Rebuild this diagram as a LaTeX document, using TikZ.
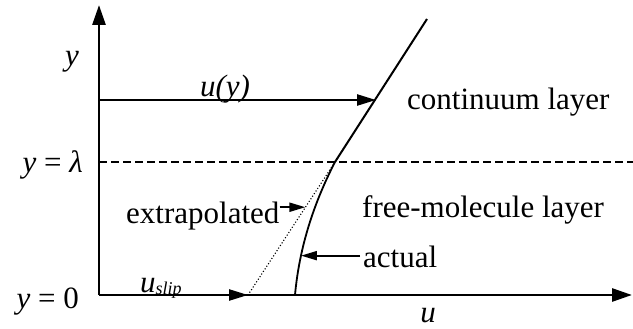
\documentclass[tikz,border=0pt]{standalone}
\usepackage{fontspec}
\setmainfont{Liberation Serif}
\usetikzlibrary{arrows.meta}
\tikzset{
  axis/.style={line width=2.8pt,-{Triangle[length=20pt,width=13pt]}},
  vel/.style={line width=2.4pt,-{Triangle[length=19pt,width=11pt]}},
  pointer/.style={line width=2pt,-{Triangle[length=16pt,width=9pt]}},
  profile/.style={line width=2pt},
  lbl/.style={inner sep=0pt,font=\fontsize{31}{34}\selectfont},
  ilbl/.style={inner sep=0pt,font=\fontsize{31}{34}\selectfont\itshape},
}
\begin{document}
\begin{tikzpicture}[x=1pt,y=-1pt]
\useasboundingbox (0,0) rectangle (633,329);
% points
\coordinate (O) at (99,295);
\coordinate (Ytop) at (99,5);
\coordinate (Xend) at (632,295);
\coordinate (Dl) at (99,162);
\coordinate (Dr) at (633,162);
\coordinate (Uy0) at (99,100);
\coordinate (Uy1) at (376,100);
\coordinate (T) at (427,19);
\coordinate (L) at (335,162);
\coordinate (S) at (248,295);
\coordinate (B) at (295,295);
% axes
\draw[axis] (O) -- (Ytop);
\draw[axis] (O) -- (Xend);
% dashed lambda line
\draw[line width=2pt,dash pattern=on 8pt off 4pt] (Dl) -- (Dr);
% continuum profile
\draw[profile] (T) -- (L);
% extrapolated (dotted)
\draw[line width=1.1pt,dotted] (L) -- (S) coordinate[pos=0.34] (Ex);
% actual curve
\draw[profile,line width=1.8pt] (L) .. controls (318,195) and (300,240) .. (B) coordinate[pos=0.75] (Ac);
% velocity arrows
\draw[vel] (Uy0) -- (Uy1);
\draw[vel] (O) -- (S);
% labels
\node[ilbl,anchor=base] (ylab) at (72,66) {y};
\node[ilbl,anchor=base] (uy) at (225,97) {u(y)};
\node[lbl,anchor=base east] (ylam) at (83,173) {\textit{y} = \textit{λ}};
\node[lbl,anchor=base east] (y0) at (79,308) {\textit{y} = 0};
\node[ilbl] (ulab) at (428,316) {u};
\node[lbl,anchor=base west] (uslip) at (140,292) {\textit{u}\raisebox{-2pt}{\fontsize{18}{20}\selectfont\textit{slip}}};
\node[lbl,anchor=base west] (cont) at (407,110) {continuum layer};
\node[lbl,anchor=base west] (fm) at (362,218) {free-molecule layer};
\node[lbl,anchor=base west] (extrap) at (126,223) {extrapolated};
\node[lbl,anchor=base west] (act) at (363,267) {actual};
% pointers
\draw[pointer] (Ex -| extrap.east) -- (Ex);
\draw[pointer] ([xshift=-3pt]act.west |- Ac) -- (Ac);
\end{tikzpicture}
\end{document}
